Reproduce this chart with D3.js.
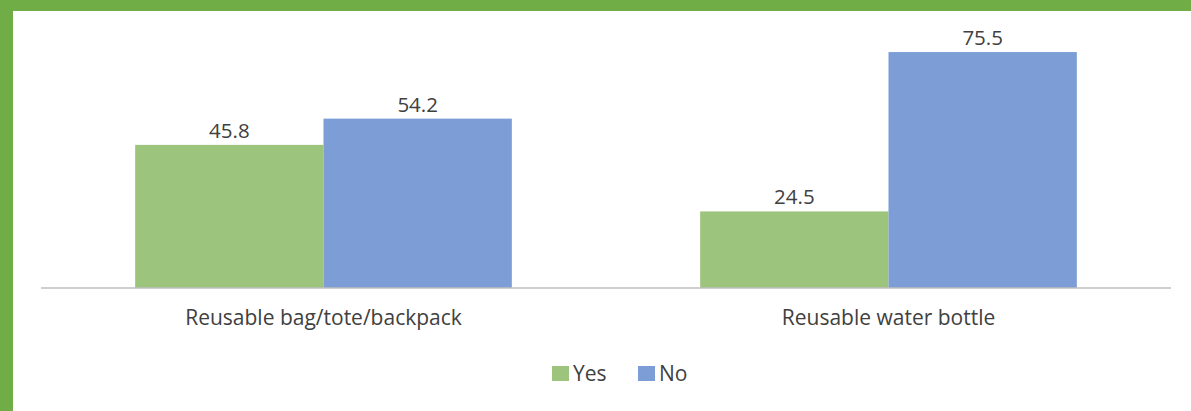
<!DOCTYPE html>
<html>
<head>
<meta charset="utf-8">
<script src="https://cdn.jsdelivr.net/npm/d3@7"></script>
<style>
  html, body { margin: 0; padding: 0; background: #ffffff; }
  svg { display: block; }
  text { font-family: "Open Sans", "Noto Sans", sans-serif; fill: #404040; }
</style>
</head>
<body>
<svg id="chart" width="1191" height="411"></svg>
<script>
// Share of respondents carrying each reusable item (%)
const categories = ["Reusable bag/tote/backpack", "Reusable water bottle"];
const seriesNames = ["Yes", "No"];
const yesValues = [45.8, 24.5];
const noValues = [54.2, 75.5];
const seriesColors = ["#9dc47c", "#7c9dd5"];

const W = 1191, H = 411;
const valueFS = 20.5, labelFS = 21;
const svg = d3.select("#chart");

// Green frame along the top and left edges
const frame = "#70ad47";
svg.append("rect").attr("x", 0).attr("y", 0).attr("width", W).attr("height", 11).attr("fill", frame);
svg.append("rect").attr("x", 0).attr("y", 0).attr("width", 13).attr("height", H).attr("fill", frame);

const plot = { left: 41, right: 1171, top: 38, bottom: 288 };

const x0 = d3.scaleBand().domain(categories).range([plot.left, plot.right]).paddingInner(0).paddingOuter(0);
const x1 = d3.scaleBand().domain(seriesNames).range([0, x0.bandwidth()]).paddingInner(0).paddingOuter(0.5);
const y = d3.scaleLinear().domain([0, 80]).range([plot.bottom, plot.top]);
const color = d3.scaleOrdinal().domain(seriesNames).range(seriesColors);

const rows = categories.map((c, i) => ({
  category: c,
  values: [ { key: "Yes", value: yesValues[i] }, { key: "No", value: noValues[i] } ]
}));

const groups = svg.append("g").selectAll("g").data(rows).join("g")
  .attr("transform", d => `translate(${x0(d.category)},0)`);

groups.selectAll("rect").data(d => d.values).join("rect")
  .attr("x", d => x1(d.key))
  .attr("y", d => y(d.value))
  .attr("width", x1.bandwidth())
  .attr("height", d => y(0) - y(d.value))
  .attr("fill", d => color(d.key));

groups.selectAll("text.val").data(d => d.values).join("text")
  .attr("class", "val")
  .attr("x", d => x1(d.key) + x1.bandwidth() / 2)
  .attr("y", d => y(d.value) - 7)
  .attr("text-anchor", "middle")
  .style("font-size", valueFS + "px")
  .text(d => d.value.toFixed(1));

// Category axis
const xAxis = svg.append("g")
  .attr("transform", `translate(0,${plot.bottom})`)
  .call(d3.axisBottom(x0).tickSize(0).tickPadding(0));
xAxis.select(".domain").attr("stroke", "#bfbfbf").attr("stroke-width", 1.5)
  .attr("d", `M${plot.left},0H${plot.right}`);
xAxis.selectAll(".tick text")
  .attr("dy", 0)
  .attr("y", 37)
  .style("font-size", labelFS + "px")
  .style("font-family", "'Open Sans', 'Noto Sans', sans-serif")
  .attr("fill", "#404040");

// Legend
const legendItems = [
  { key: "Yes", x: 552 },
  { key: "No", x: 638 }
];
const legend = svg.append("g");
legendItems.forEach(it => {
  legend.append("rect").attr("x", it.x).attr("y", 366).attr("width", 17).attr("height", 15)
    .attr("fill", color(it.key));
  legend.append("text").attr("x", it.x + 21).attr("y", 381)
    .style("font-size", labelFS + "px").text(it.key);
});
</script>
</body>
</html>
